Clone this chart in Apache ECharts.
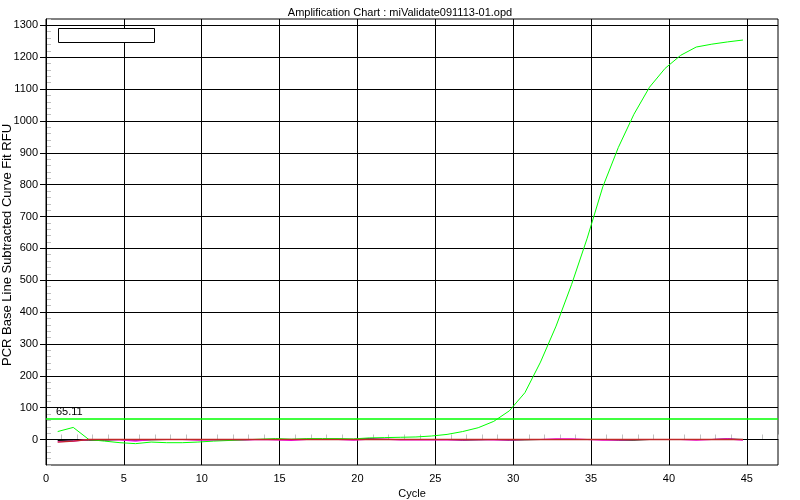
<!DOCTYPE html>
<html><head><meta charset="utf-8">
<script src="https://cdn.jsdelivr.net/npm/echarts@6/dist/echarts.min.js"></script>
<style>html,body{margin:0;padding:0;background:#fff}#c{width:800px;height:500px}</style>
</head><body><div id="c"></div>
<script>
// Plotted cycle positions
const cycleX = [0.75,1.75,2.75,3.75,4.75,5.75,6.75,7.75,8.75,9.75,10.75,11.75,12.75,13.75,14.75,15.75,16.75,17.75,18.75,19.75,20.75,21.75,22.75,23.75,24.75,25.75,26.75,27.75,28.75,29.75,30.75,31.75,32.75,33.75,34.75,35.75,36.75,37.75,38.75,39.75,40.75,41.75,42.75,43.75,44.75];
// RFU values per well
const greenRFU = [25,38,0,-5,-10,-13,-8,-10,-10,-8,-5,-3,-1,1,3,1,3,3,3,2,5,6,7,8,11,16,25,37,57,90,147,243,356,487,632,793,917,1021,1106,1165,1206,1232,1241,1248,1254];
const redRFU = [-8,-5,0,0,0,0,0,0,0,0,0,0,0,0,0,0,0,0,0,0,0,0,0,0,0,0,0,0,0,0,0,0,0,0,0,0,0,0,0,0,0,0,0,0,0];
const magentaRFU = [-7,-5,0,0,-1,-5,0,0,0,-2,-2,-2,-2,0,-1,-3,0,0,0,-2,1,1,-1,-1,-1,-1,-1,0,-1,-1,0,0,2,2,0,-2,-1,0,0,0,0,-2,0,2,-2];
const blackRFU = [-3,-2,-2,-2,0,-2,-1,0,0,0,0,0,0,0,0,0,0,0,0,0,3,0,0,0,0,0,-2,-1,0,-2,-1,0,0,0,0,0,-2,-2,0,0,0,0,0,2,0];
const threshold = 65.11;
const xTicks = [0,5,10,15,20,25,30,35,40,45];
const yTicks = [0,100,200,300,400,500,600,700,800,900,1000,1100,1200,1300];

const font = 'Liberation Sans, Arial, sans-serif';
const toPairs = v => cycleX.map((x, i) => [x, v[i]]);
const chart = echarts.init(document.getElementById('c'), null, {renderer: 'canvas'});
const lineSeries = (name, vals, color, width, z, extra) => Object.assign({
  name, type: 'line', data: toPairs(vals), symbol: 'none', showSymbol: false,
  lineStyle: {color, width}, itemStyle: {color}, z, animation: false, silent: true, clip: true
}, extra || {});

chart.setOption({
  animation: false,
  backgroundColor: '#fff',
  textStyle: {fontFamily: font},
  title: {
    text: 'Amplification Chart : miValidate091113-01.opd',
    left: 'center', top: 2,
    textStyle: {fontSize: 11, fontWeight: 'normal', color: '#000', fontFamily: font}
  },
  grid: {left: 46, right: 22, top: 19, bottom: 35, show: true, borderColor: '#000', borderWidth: 1,
         containLabel: false, outerBoundsMode: 'none'},
  xAxis: [{
    type: 'value', min: 0, max: 47, interval: 5, position: 'bottom', z: 3,
    name: 'Cycle', nameLocation: 'middle', nameGap: 23, nameMoveOverlap: false,
    nameTextStyle: {fontSize: 11, color: '#000', fontFamily: font},
    axisLine: {show: true, lineStyle: {color: '#000', width: 1}},
    axisTick: {show: true, length: 5, lineStyle: {color: '#000', width: 1}, customValues: xTicks},
    axisLabel: {color: '#000', fontSize: 11, margin: 8, fontFamily: font, customValues: xTicks, formatter: v => String(v)},
    splitLine: {show: true, lineStyle: {color: '#000', width: 1}}
  }, {
    type: 'value', min: 0, max: 47, interval: 1, position: 'bottom', z: 1,
    axisLine: {show: false}, axisLabel: {show: false}, splitLine: {show: false},
    axisTick: {show: true, inside: true, length: 5, lineStyle: {color: '#c0c0c0', width: 1}}
  }],
  yAxis: [{
    type: 'value', min: -80, max: 1320, interval: 100, position: 'left', z: 3,
    name: 'PCR Base Line Subtracted Curve Fit RFU', nameLocation: 'middle', nameGap: 32, nameRotate: 90,
    nameMoveOverlap: false,
    nameTextStyle: {fontSize: 13, color: '#000', fontFamily: font, padding: [0, 6, 0, 0]},
    axisLine: {show: true, lineStyle: {color: '#000', width: 1}},
    axisTick: {show: true, length: 6, lineStyle: {color: '#000', width: 1}, customValues: yTicks},
    axisLabel: {color: '#000', fontSize: 11, margin: 8, fontFamily: font, customValues: yTicks, formatter: v => String(v)},
    splitLine: {show: true, lineStyle: {color: '#000', width: 1}}
  }, {
    type: 'value', min: -80, max: 1320, interval: 20, position: 'left', z: 1,
    axisLine: {show: false}, axisLabel: {show: false}, splitLine: {show: false},
    axisTick: {show: true, inside: true, length: 5, lineStyle: {color: '#c0c0c0', width: 1}}
  }],
  series: [
    lineSeries('Black', blackRFU, '#000000', 1, 3),
    lineSeries('Magenta', magentaRFU, '#ff00ff', 1.2, 4),
    lineSeries('Green', greenRFU, '#00ff00', 1, 5, {
      markLine: {
        silent: true, symbol: 'none', animation: false,
        lineStyle: {color: '#00ff00', width: 1.5, type: 'solid'},
        label: {show: true, position: 'insideStartTop', formatter: String(threshold), color: '#000', fontSize: 11, fontFamily: font, distance: [10, 1]},
        data: [{yAxis: threshold}]
      }
    }),
    lineSeries('Red', redRFU, '#c02828', 1.3, 6)
  ],
  graphic: [{
    type: 'rect', left: 58, top: 28, z: 100,
    shape: {width: 96, height: 14},
    style: {fill: '#fff', stroke: '#000', lineWidth: 1}
  }]
});
</script>
</body></html>
